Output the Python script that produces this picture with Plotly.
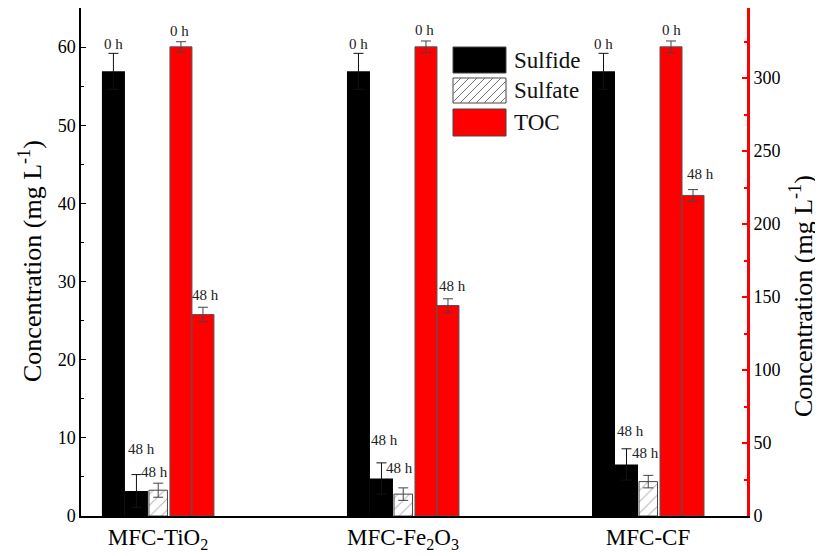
import plotly.graph_objects as go

# ---- data ----
groups = ["MFC-TiO<sub>2</sub>", "MFC-Fe<sub>2</sub>O<sub>3</sub>", "MFC-CF"]
sulfide_0h = [56.9, 56.9, 56.9]
sulfide_0h_err = [2.3, 2.3, 2.3]
sulfide_48h = [3.2, 4.8, 6.6]
sulfide_48h_err = [2.1, 2.0, 2.0]
sulfate_48h = [3.3, 2.8, 4.4]
sulfate_48h_err = [0.9, 0.8, 0.8]
toc_0h = [321.4, 321.4, 321.4]
toc_0h_err = [3.5, 4.0, 4.0]
toc_48h = [138.0, 144.2, 219.6]
toc_48h_err = [5.0, 4.6, 4.0]

y_title = "Concentration (mg L<sup>-1</sup>)"

FONT = "Times New Roman, Liberation Serif, serif"
PX_PER_CAT = 245.0  # pixel width of one category unit

# the page body adds an 8 px offset; the figure is sized to fill the 823x556 window
PAGE_OFF = 8
FIG_W, FIG_H = 823 - PAGE_OFF, 556 - PAGE_OFF


def u(px):
    return px / PX_PER_CAT


fig = go.Figure()

err_style = dict(type="data", thickness=1, width=5)

fig.add_trace(go.Bar(x=groups, y=sulfide_0h, offset=u(-56), width=u(23),
                     marker=dict(color="black", line=dict(width=0)),
                     error_y=dict(array=sulfide_0h_err, color="#111", **err_style),
                     showlegend=False, yaxis="y"))
fig.add_trace(go.Bar(x=groups, y=sulfide_48h, offset=u(-33), width=u(23),
                     marker=dict(color="black", line=dict(width=0)),
                     error_y=dict(array=sulfide_48h_err, color="#111", **err_style),
                     showlegend=False, yaxis="y"))
fig.add_trace(go.Bar(x=groups, y=sulfate_48h, offset=u(-9), width=u(18.5),
                     marker=dict(color="white", line=dict(color="#444", width=1),
                                 pattern=dict(shape="/", fgcolor="#666", bgcolor="white",
                                              size=8, solidity=0.12)),
                     error_y=dict(array=sulfate_48h_err, color="#444", **err_style),
                     showlegend=False, yaxis="y"))
fig.add_trace(go.Bar(x=groups, y=toc_0h, offset=u(12), width=u(22),
                     marker=dict(color="#ff0000", line=dict(color="#555", width=1)),
                     error_y=dict(array=toc_0h_err, color="#444", **err_style),
                     showlegend=False, yaxis="y2"))
fig.add_trace(go.Bar(x=groups, y=toc_48h, offset=u(34), width=u(22),
                     marker=dict(color="#ff0000", line=dict(color="#555", width=1)),
                     error_y=dict(array=toc_48h_err, color="#444", **err_style),
                     showlegend=False, yaxis="y2"))

# ---- time labels ----
ann = []
label_sets = [
    ("0 h", sulfide_0h, sulfide_0h_err, "y", [-44.5, -44.5, -44.5], [9, 9, 9]),
    ("48 h", sulfide_48h, sulfide_48h_err, "y", [-16.5, -18.5, -18], [26, 23, 18]),
    ("48 h", sulfate_48h, sulfate_48h_err, "y", [-3, -3.5, -3], [11, 20, 22]),
    ("0 h", toc_0h, toc_0h_err, "y2", [22, 22, 23], [11, 11, 11]),
    ("48 h", toc_48h, toc_48h_err, "y2", [48, 50, 52], [12, 13, 16]),
]
for text, vals, errs, yref, xs, ys in label_sets:
    for i, g in enumerate(groups):
        ann.append(dict(x=g, y=vals[i] + errs[i], xref="x", yref=yref, text=text,
                        showarrow=False, xanchor="center", yanchor="middle",
                        xshift=xs[i], yshift=ys[i],
                        font=dict(family=FONT, size=15, color="#222")))

# ---- positions in window pixels ----
L, R, T, B = 81, 747, 8, 516


def px_x(x):
    return (x - L) / (R - L)


def px_y(y):
    return (B - y) / (B - T)


# axis titles (as rotated annotations for exact placement)
for cx, cy in [(30, 261), (801, 296)]:
    ann.append(dict(x=px_x(cx), y=px_y(cy), xref="paper", yref="paper", text=y_title,
                    textangle=-90, showarrow=False, xanchor="center", yanchor="middle",
                    font=dict(family=FONT, size=26, color="black")))

# custom legend (large swatches)
shapes = []
legend_rows = [("Sulfide", 47, 73, "black"), ("Sulfate", 78, 103, "hatch"), ("TOC", 109, 136, "#ff0000")]
sx0, sx1 = 453, 506
for name, y0, y1, col in legend_rows:
    if col == "hatch":
        shapes.append(dict(type="rect", xref="paper", yref="paper",
                           x0=px_x(sx0), x1=px_x(sx1), y0=px_y(y1), y1=px_y(y0),
                           fillcolor="white", line=dict(color="#444", width=1)))
        h = y1 - y0
        step = 8
        c = sx0 - h
        while c < sx1:
            xa, ya = c, y1
            xb, yb = c + h, y0
            if xa < sx0:
                ya = ya - (sx0 - xa)
                xa = sx0
            if xb > sx1:
                yb = yb + (xb - sx1)
                xb = sx1
            if xb > xa:
                shapes.append(dict(type="line", xref="paper", yref="paper",
                                   x0=px_x(xa), y0=px_y(ya), x1=px_x(xb), y1=px_y(yb),
                                   line=dict(color="#777", width=1)))
            c += step
    else:
        shapes.append(dict(type="rect", xref="paper", yref="paper",
                           x0=px_x(sx0), x1=px_x(sx1), y0=px_y(y1), y1=px_y(y0),
                           fillcolor=col, line=dict(color="#444", width=1)))
    ann.append(dict(x=px_x(512), y=px_y((y0 + y1) / 2), xref="paper", yref="paper",
                    text=name, showarrow=False, xanchor="left", yanchor="middle",
                    font=dict(family=FONT, size=23, color="#111")))

fig.update_layout(
    width=FIG_W, height=FIG_H,
    margin=dict(l=L - PAGE_OFF, r=823 - R, t=T - PAGE_OFF, b=556 - B, autoexpand=False),
    paper_bgcolor="white", plot_bgcolor="white",
    barmode="overlay",
    font=dict(family=FONT, color="black"),
    xaxis=dict(type="category", range=[-0.314, 2.404], showline=True, linecolor="black",
               linewidth=1.5, mirror=True, ticks="", showgrid=False, automargin=False,
               tickfont=dict(family=FONT, size=23, color="black")),
    yaxis=dict(range=[0, 65], dtick=10, showline=True, linecolor="black", linewidth=1.5,
               ticks="inside", ticklen=5, tickcolor="black", showgrid=False, zeroline=False,
               automargin=False,
               minor=dict(ticks="inside", ticklen=3, dtick=5, tickcolor="black"),
               tickfont=dict(family=FONT, size=18, color="black")),
    yaxis2=dict(range=[0, 348], dtick=50, overlaying="y", side="right", anchor="x",
                showline=True, linecolor="#ff0000", linewidth=3,
                ticks="inside", ticklen=5, tickcolor="#ff0000", tickwidth=2, showgrid=False,
                zeroline=False, automargin=False,
                minor=dict(ticks="inside", ticklen=3, dtick=25, tickcolor="#ff0000", tickwidth=2),
                tickfont=dict(family=FONT, size=18, color="black")),
    shapes=shapes,
    annotations=ann,
)

fig.write_html("out.html")
